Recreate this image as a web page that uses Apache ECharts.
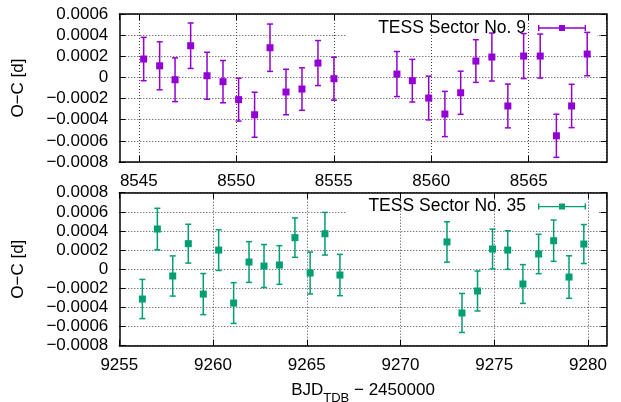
<!DOCTYPE html>
<html>
<head>
<meta charset="utf-8">
<script src="https://cdn.jsdelivr.net/npm/echarts@6/dist/echarts.min.js"></script>
<style>
  body { margin: 0; background: #fff; }
  #chart { width: 621px; height: 402px; }
</style>
</head>
<body>
<div id="chart"></div>
<script>
  // TESS Sector 9 : BJD - 2450000, O-C [d], error [d]
  const time9 = [8545.25, 8546.07, 8546.86, 8547.66, 8548.50, 8549.32, 8550.12, 8550.94, 8551.73,
    8552.55, 8553.37, 8554.19, 8555.01, 8558.24, 8559.03, 8559.87, 8560.70, 8561.51, 8562.29,
    8563.11, 8563.93, 8564.74, 8565.59, 8566.42, 8567.20, 8568.00]
  const oc9 = [0.000174, 0.000110, -0.000022, 0.000300, 0.000016, -0.000040, -0.000210, -0.000353, 0.000281,
    -0.000138, -0.000110, 0.000136, -0.000012, 0.000032, -0.000031, -0.000195, -0.000346, -0.000145, 0.000155,
    0.000193, -0.000270, 0.000202, 0.000202, -0.000552, -0.000270, 0.000221]
  const err9 = [0.000205, 0.000227, 0.000207, 0.000215, 0.000222, 0.000200, 0.000203, 0.000213, 0.000224,
    0.000215, 0.000201, 0.000213, 0.000203, 0.000213, 0.000202, 0.000207, 0.000214, 0.000204, 0.000202,
    0.000227, 0.000207, 0.000213, 0.000208, 0.000204, 0.000205, 0.000205]

  // TESS Sector 35
  const time35 = [9256.23, 9257.03, 9257.85, 9258.68, 9259.48, 9260.30, 9261.10, 9261.92, 9262.72,
    9263.54, 9264.37, 9265.18, 9265.97, 9266.77, 9272.48, 9273.28, 9274.11, 9274.91, 9275.72,
    9276.53, 9277.37, 9278.17, 9278.99, 9279.78]
  const oc35 = [-0.000312, 0.000420, -0.000071, 0.000267, -0.000260, 0.000200, -0.000354, 0.000075, 0.000033,
    0.000044, 0.000330, -0.000040, 0.000371, -0.000061, 0.000285, -0.000458, -0.000228, 0.000211, 0.000200,
    -0.000155, 0.000159, 0.000298, -0.000082, 0.000263]
  const err35 = [0.000205, 0.000217, 0.000210, 0.000203, 0.000215, 0.000213, 0.000213, 0.000213, 0.000225,
    0.000202, 0.000206, 0.000219, 0.000223, 0.000216, 0.000211, 0.000204, 0.000209, 0.000208, 0.000202,
    0.000203, 0.000206, 0.000216, 0.000222, 0.000204]

  const name9 = 'TESS Sector No. 9'
  const name35 = 'TESS Sector No. 35'
  const color9 = '#9400d3'
  const color35 = '#009e73'
  const font = 'Liberation Sans'
  const gridStyle = { color: '#444', type: [1, 2], width: 1 }
  const borderStyle = { color: '#000', width: 1.5 }
  // horizontal errorbar with a square, as in the gnuplot key
  const keyIcon = 'path://M0 2.3H48V3.7H0Z M0 0H1.4V6H0Z M46.6 0H48V6H46.6Z M21 0H27V6H21Z'

  function toPoints (t, oc, err) {
    return t.map((x, i) => [x, oc[i], err[i]])
  }

  function errorBar (color) {
    return function (params, api) {
      let x = api.value(0)
      let y = api.value(1)
      let e = api.value(2)
      let top = api.coord([x, y + e])
      let bottom = api.coord([x, y - e])
      let cap = 3
      let style = { stroke: color, lineWidth: 1.5, fill: null }
      return {
        type: 'group',
        children: [
          { type: 'line', shape: { x1: top[0], y1: top[1], x2: bottom[0], y2: bottom[1] }, style: style },
          { type: 'line', shape: { x1: top[0] - cap, y1: top[1], x2: top[0] + cap, y2: top[1] }, style: style },
          { type: 'line', shape: { x1: bottom[0] - cap, y1: bottom[1], x2: bottom[0] + cap, y2: bottom[1] }, style: style }
        ]
      }
    }
  }

  function xAxes (gridIndex, min, max, showMin, name) {
    let tick = { inside: true, length: 6, lineStyle: { color: '#000', width: 1 } }
    return [
      {
        gridIndex: gridIndex, type: 'value', min: min, max: max, minInterval: 5, maxInterval: 5,
        position: 'bottom', z: 2,
        axisLine: { onZero: false, lineStyle: borderStyle },
        axisTick: tick,
        axisLabel: {
          showMinLabel: showMin, showMaxLabel: false, margin: 11,
          color: '#000', fontSize: 17, fontFamily: font,
          formatter: (v) => String(v)
        },
        splitLine: { show: true, lineStyle: gridStyle },
        name: name,
        nameLocation: 'middle',
        nameGap: 36,
        nameTextStyle: {
          rich: {
            m: { fontSize: 17, fontFamily: font, color: '#000', lineHeight: 20, verticalAlign: 'top' },
            s: { fontSize: 13, fontFamily: font, color: '#000', lineHeight: 14, padding: [10, 0, 0, 0], verticalAlign: 'top' }
          }
        }
      },
      {
        gridIndex: gridIndex, type: 'value', min: min, max: max, minInterval: 5, maxInterval: 5,
        position: 'top', z: 2,
        axisLine: { onZero: false, lineStyle: borderStyle },
        axisTick: tick,
        axisLabel: { show: false },
        splitLine: { show: false }
      }
    ]
  }

  function yAxes (gridIndex, min, max) {
    let tick = { inside: true, length: 6, lineStyle: { color: '#000', width: 1 } }
    return [
      {
        gridIndex: gridIndex, type: 'value', min: min, max: max, interval: 0.0002,
        position: 'left', z: 0,
        axisLine: { show: true, onZero: false, lineStyle: borderStyle },
        axisTick: { show: true, ...tick },
        axisLabel: {
          margin: 11, color: '#000', fontSize: 17, fontFamily: font,
          formatter: (v) => Math.abs(v) < 1e-12 ? '0' : (v < 0 ? '\u2212' : '') + Math.abs(v).toFixed(4)
        },
        splitLine: { show: true, lineStyle: gridStyle },
        name: 'O\u2212C [d]',
        nameLocation: 'middle',
        nameGap: 92,
        nameTextStyle: { fontSize: 17, fontFamily: font, color: '#000' }
      },
      {
        gridIndex: gridIndex, type: 'value', min: min, max: max, interval: 0.0002,
        position: 'right', z: 2,
        axisLine: { show: true, onZero: false, lineStyle: borderStyle },
        axisTick: { show: true, ...tick },
        axisLabel: { show: false },
        splitLine: { show: false }
      }
    ]
  }

  function legendFor (name, top) {
    return {
      data: [{ name: name, icon: keyIcon }],
      right: 35,
      top: top,
      padding: 0,
      align: 'right',
      itemWidth: 48,
      itemHeight: 6,
      selectedMode: false,
      textStyle: { fontSize: 17.5, fontFamily: font, color: '#000', lineHeight: 20, padding: [0, 7, 0, 0] }
    }
  }

  let option = {
    animation: false,
    backgroundColor: '#fff',
    grid: [
      { left: 119.3, right: 14.3, top: 14, height: 148, outerBoundsMode: 'none' },
      { left: 119.3, right: 14.3, top: 192.7, height: 153, outerBoundsMode: 'none' }
    ],
    xAxis: [
      ...xAxes(0, 8544, 8569, false, ''),
      ...xAxes(1, 9255, 9281, true, '{m|BJD}{s|TDB}{m| \u2212 2450000}')
    ],
    yAxis: [
      ...yAxes(0, -0.0008, 0.0006),
      ...yAxes(1, -0.0008, 0.0008)
    ],
    legend: [
      legendFor(name9, 18),
      legendFor(name35, 196.6)
    ],
    // opaque key boxes: hide the horizontal grid behind the key text
    graphic: [
      { type: 'rect', z: 1, silent: true, shape: { x: 346, y: 15, width: 251, height: 28 }, style: { fill: '#fff' } },
      { type: 'rect', z: 1, silent: true, shape: { x: 346, y: 194, width: 253, height: 28 }, style: { fill: '#fff' } }
    ],
    series: [
      {
        name: 'err9', type: 'custom', xAxisIndex: 0, yAxisIndex: 0, z: 3,
        renderItem: errorBar(color9),
        encode: { x: 0, y: 1 },
        data: toPoints(time9, oc9, err9)
      },
      {
        name: name9, type: 'scatter', xAxisIndex: 0, yAxisIndex: 0, z: 4,
        symbol: 'rect', symbolSize: 7,
        itemStyle: { color: color9, opacity: 1 },
        data: toPoints(time9, oc9, err9)
      },
      {
        name: 'err35', type: 'custom', xAxisIndex: 2, yAxisIndex: 2, z: 3,
        renderItem: errorBar(color35),
        encode: { x: 0, y: 1 },
        data: toPoints(time35, oc35, err35)
      },
      {
        name: name35, type: 'scatter', xAxisIndex: 2, yAxisIndex: 2, z: 4,
        symbol: 'rect', symbolSize: 7,
        itemStyle: { color: color35, opacity: 1 },
        data: toPoints(time35, oc35, err35)
      }
    ]
  }

  let chart = echarts.init(document.getElementById('chart'))
  chart.setOption(option)
</script>
</body>
</html>
